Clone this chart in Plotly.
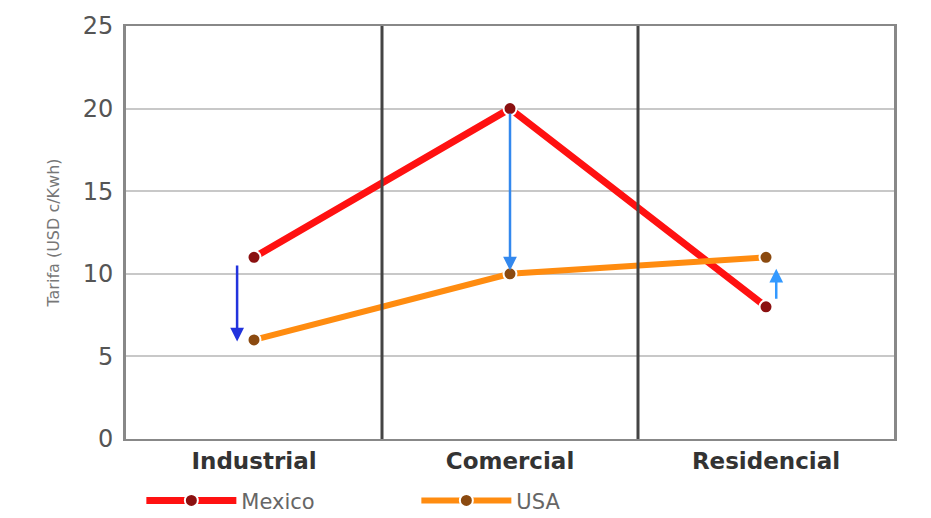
import plotly.graph_objects as go

categories = ["Industrial", "Comercial", "Residencial"]
mexico = [11, 20, 8]
usa = [6, 10, 11]
y_ticks = [0, 5, 10, 15, 20, 25]

# arrows: (category index, offset, start value, end value, color)
arrow_cat = [0, 1, 2]
arrow_offset = [-0.066, 0.0, 0.04]
arrow_start = [10.6, 19.8, 8.4]
arrow_end = [5.9, 10.2, 10.3]
arrow_color = ["#2233dd", "#3388ee", "#3399ff"]

font_family = "'DejaVu Sans', sans-serif"

fig = go.Figure()
fig.add_trace(go.Scatter(
    x=categories, y=mexico, name="Mexico", mode="lines+markers",
    line=dict(color="#ff1111", width=7),
    marker=dict(color="#8b1010", size=13, line=dict(color="white", width=2)),
))
fig.add_trace(go.Scatter(
    x=categories, y=usa, name="USA", mode="lines+markers",
    line=dict(color="#ff8c10", width=6),
    marker=dict(color="#8b4a10", size=13, line=dict(color="white", width=2)),
))

for i, off, s, e, c in zip(arrow_cat, arrow_offset, arrow_start, arrow_end, arrow_color):
    fig.add_annotation(
        x=i + off, y=e, ax=i + off, ay=s, xref="x", yref="y", axref="x", ayref="y",
        showarrow=True, arrowhead=2, arrowsize=1.1, arrowwidth=2.5, arrowcolor=c, text="",
    )

# category dividers
for b in [0.5, 1.5]:
    fig.add_shape(type="line", x0=b, x1=b, y0=0, y1=25, xref="x", yref="y",
                  line=dict(color="#444444", width=3), layer="above")

fig.update_layout(
    width=931, height=518,
    margin=dict(l=118, r=45, t=18, b=87, autoexpand=False),
    paper_bgcolor="white", plot_bgcolor="white",
    font=dict(family=font_family, color="#555555"),
    showlegend=True,
    legend=dict(orientation="h", x=0.02, y=-0.1, xanchor="left", yanchor="top",
                font=dict(size=21, color="#666666"), bgcolor="rgba(0,0,0,0)",
                itemwidth=90, entrywidth=170, entrywidthmode="pixels"),
    xaxis=dict(range=[-0.5, 2.5], showgrid=False, showline=True, linecolor="#888888",
               linewidth=2, mirror=True, ticks="",
               tickfont=dict(size=23, color="#333333"),
               ticklabelstandoff=0),
    yaxis=dict(range=[0, 25], tickvals=y_ticks, showgrid=True, gridcolor="#c8c8c8",
               gridwidth=1.5, showline=True, linecolor="#888888", linewidth=3, mirror=True,
               ticks="", tickfont=dict(size=24, color="#555555"), zeroline=False,
               ticklabelstandoff=5,
               title=dict(text="Tarifa (USD c/Kwh)", font=dict(size=16, color="#777777"),
                          standoff=20)),
)
fig.update_xaxes(tickprefix="<b>", ticksuffix="</b>")

fig.write_html("out.html")
